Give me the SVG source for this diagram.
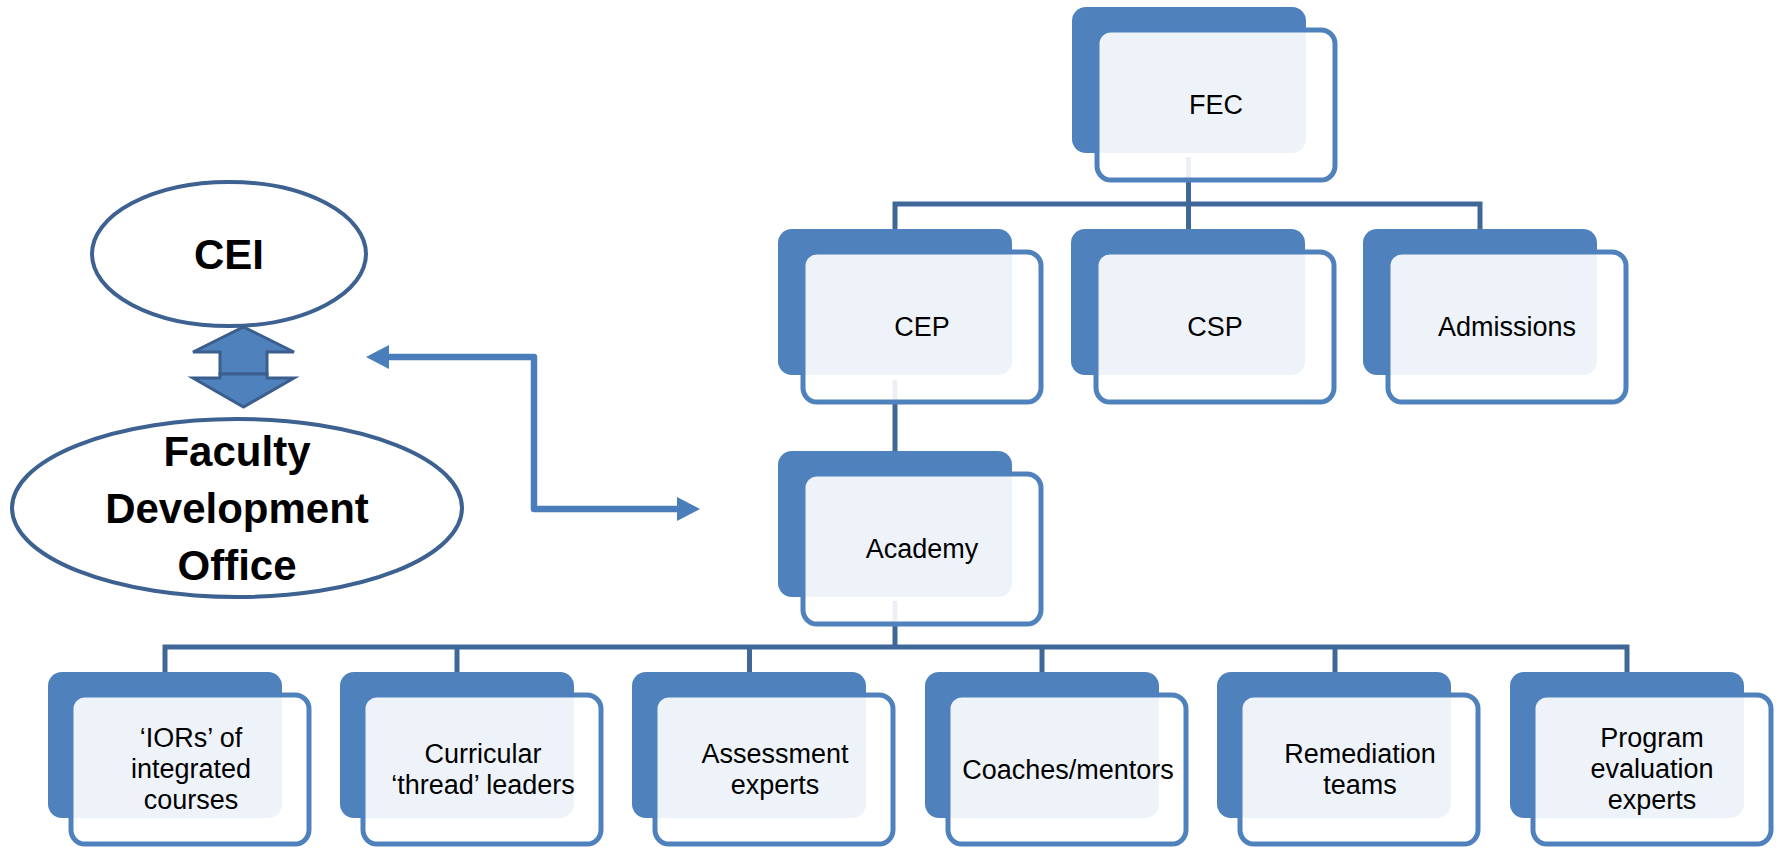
<svg xmlns="http://www.w3.org/2000/svg" width="1779" height="848" viewBox="0 0 1779 848">
<defs>
<style>
.back{fill:#4F81BD;}
.front{fill:#FFFFFF;fill-opacity:0.9;stroke:#4F81BD;stroke-width:5;}
.lbl{font-family:"Liberation Sans",Arial,sans-serif;font-size:27px;fill:#000;text-anchor:middle;}
.big{font-family:"Liberation Sans",Arial,sans-serif;font-size:42px;font-weight:bold;fill:#000;text-anchor:middle;}
.conn{fill:none;stroke:#3F6899;stroke-width:5;stroke-linejoin:miter;}
.ell{fill:#FFFFFF;stroke:#3D6191;stroke-width:4;}
.blk{fill:#4F81BD;stroke:#3B5E8C;stroke-width:3;stroke-linejoin:miter;}
</style>
<marker id="ah" markerUnits="userSpaceOnUse" markerWidth="24" markerHeight="24" refX="0" refY="12" orient="auto-start-reverse" viewBox="0 0 24 24">
<path d="M0,0 L23,12 L0,24 z" fill="#4A7EBB"/>
</marker>
</defs>
<rect width="1779" height="848" fill="#FFFFFF"/>

<g id="connectors">
<path class="conn" d="M1188.5 157 V204"/>
<path class="conn" d="M895 231 V204 H1480 V231"/>
<path class="conn" d="M1188.5 204 V231"/>
<path class="conn" d="M895 380 V453"/>
<path class="conn" d="M895 601 V647"/>
<path class="conn" d="M165 674 V647 H1627 V674"/>
<path class="conn" d="M457 647 V674 M749.5 647 V674 M1042 647 V674 M1335 647 V674"/>
<path d="M389 357 H534 V509 H677" fill="none" stroke="#4A7EBB" stroke-width="6.5" stroke-linejoin="round" marker-start="url(#ah)" marker-end="url(#ah)"/>
</g>

<g id="cei">
<ellipse class="ell" cx="229" cy="254" rx="137" ry="72"/>
<text class="big" x="229" y="269">CEI</text>
</g>

<g id="updown-arrow">
<polygon class="blk" points="243.5,327 294,352 267,352 267,374 220,374 220,352 193,352"/>
<polygon class="blk" points="220,374 267,374 267,378 294,378 243.5,407 193,378 220,378"/>
</g>

<g id="fdo">
<ellipse class="ell" cx="237" cy="508" rx="225" ry="89"/>
<text class="big" x="237" y="466">Faculty</text>
<text class="big" x="237" y="523">Development</text>
<text class="big" x="237" y="580">Office</text>
</g>

<g id="fec">
<rect class="back" x="1072" y="7" width="234" height="146" rx="14"/>
<rect class="front" x="1097" y="30" width="238" height="150" rx="14"/>
<text class="lbl" x="1216" y="114">FEC</text>
</g>

<g id="cep">
<rect class="back" x="778" y="229" width="234" height="146" rx="14"/>
<rect class="front" x="803" y="252" width="238" height="150" rx="14"/>
<text class="lbl" x="922" y="336">CEP</text>
</g>

<g id="csp">
<rect class="back" x="1071" y="229" width="234" height="146" rx="14"/>
<rect class="front" x="1096" y="252" width="238" height="150" rx="14"/>
<text class="lbl" x="1215" y="336">CSP</text>
</g>

<g id="admissions">
<rect class="back" x="1363" y="229" width="234" height="146" rx="14"/>
<rect class="front" x="1388" y="252" width="238" height="150" rx="14"/>
<text class="lbl" x="1507" y="336">Admissions</text>
</g>

<g id="academy">
<rect class="back" x="778" y="451" width="234" height="146" rx="14"/>
<rect class="front" x="803" y="474" width="238" height="150" rx="14"/>
<text class="lbl" x="922" y="558">Academy</text>
</g>

<g id="iors">
<rect class="back" x="48" y="672" width="234" height="146" rx="14"/>
<rect class="front" x="71" y="695" width="238" height="149" rx="14"/>
<text class="lbl" x="191" y="747">‘IORs’ of</text>
<text class="lbl" x="191" y="778">integrated</text>
<text class="lbl" x="191" y="809">courses</text>
</g>

<g id="curricular">
<rect class="back" x="340" y="672" width="234" height="146" rx="14"/>
<rect class="front" x="363" y="695" width="238" height="149" rx="14"/>
<text class="lbl" x="483" y="763">Curricular</text>
<text class="lbl" x="483" y="794">‘thread’ leaders</text>
</g>

<g id="assessment">
<rect class="back" x="632" y="672" width="234" height="146" rx="14"/>
<rect class="front" x="655" y="695" width="238" height="149" rx="14"/>
<text class="lbl" x="775" y="763">Assessment</text>
<text class="lbl" x="775" y="794">experts</text>
</g>

<g id="coaches">
<rect class="back" x="925" y="672" width="234" height="146" rx="14"/>
<rect class="front" x="948" y="695" width="238" height="149" rx="14"/>
<text class="lbl" x="1068" y="779">Coaches/mentors</text>
</g>

<g id="remediation">
<rect class="back" x="1217" y="672" width="234" height="146" rx="14"/>
<rect class="front" x="1240" y="695" width="238" height="149" rx="14"/>
<text class="lbl" x="1360" y="763">Remediation</text>
<text class="lbl" x="1360" y="794">teams</text>
</g>

<g id="program">
<rect class="back" x="1510" y="672" width="234" height="146" rx="14"/>
<rect class="front" x="1533" y="695" width="238" height="149" rx="14"/>
<text class="lbl" x="1652" y="747">Program</text>
<text class="lbl" x="1652" y="778">evaluation</text>
<text class="lbl" x="1652" y="809">experts</text>
</g>
</svg>
